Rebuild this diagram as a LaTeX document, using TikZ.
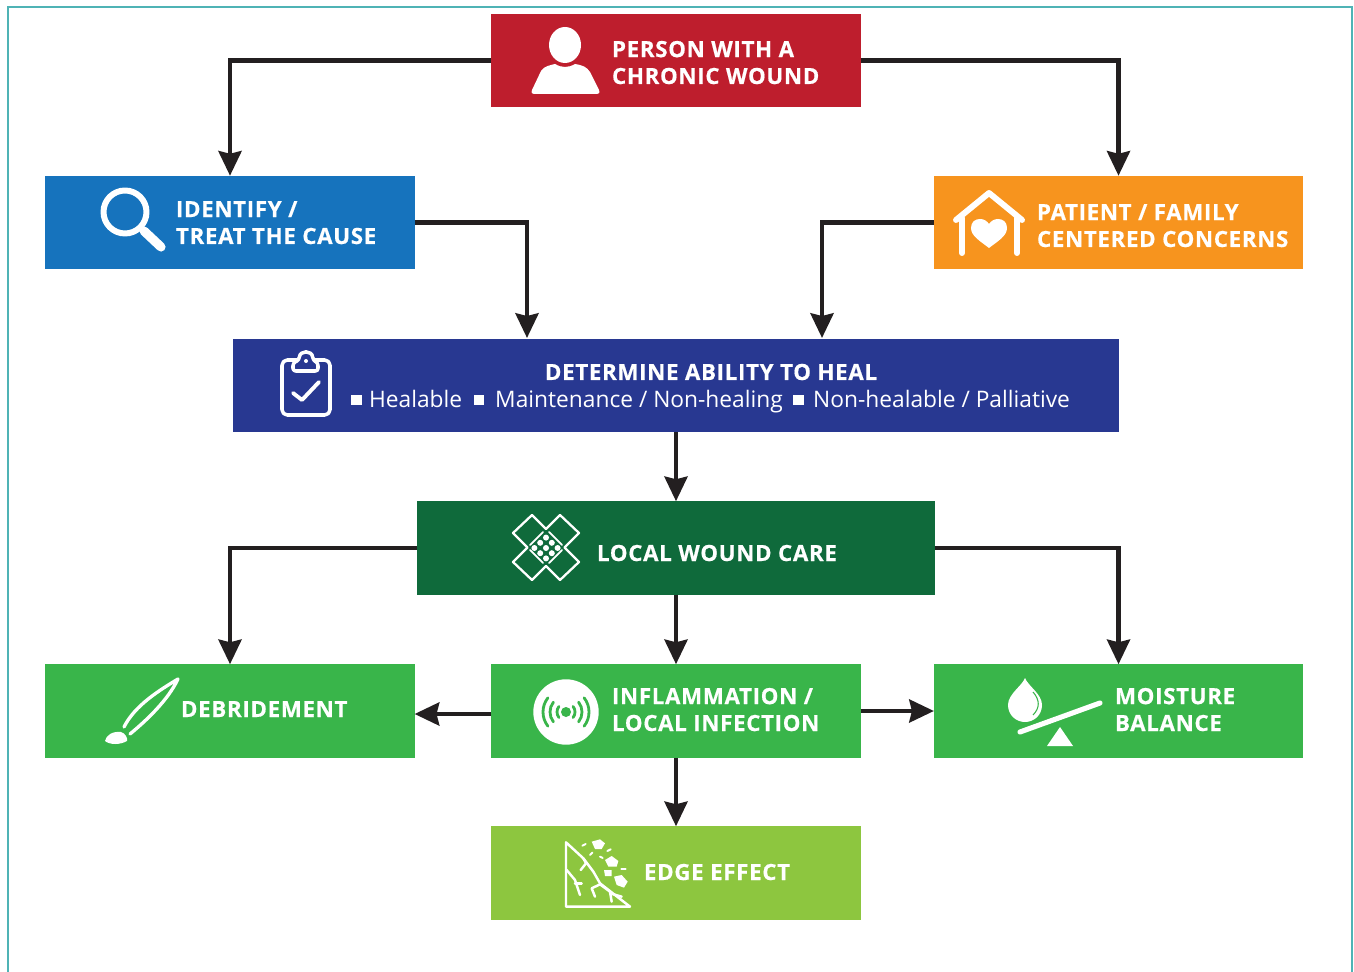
\documentclass[tikz,border=0pt]{standalone}
\usepackage{fontspec}
\setmainfont{Open Sans}
\newfontfamily\stepfont[LetterSpace=3, BoldFeatures={FakeBold=0.5}]{Open Sans}
\usetikzlibrary{arrows.meta, positioning}
\definecolor{framecol}{HTML}{4FB3B5}
\definecolor{personcol}{HTML}{BE1E2D}
\definecolor{identifycol}{HTML}{1673BD}
\definecolor{familycol}{HTML}{F7941E}
\definecolor{abilitycol}{HTML}{283891}
\definecolor{localcol}{HTML}{0F6A3B}
\definecolor{carecol}{HTML}{39B54A}
\definecolor{edgecol}{HTML}{8DC63F}
\definecolor{linkcol}{HTML}{231F20}
\newcommand{\itembox}{\raisebox{1.6pt}{\rule{6pt}{6pt}}}
\tikzset{
	stepbox/.style={minimum width=10.4cm*0.71, minimum height=1.87cm, inner sep=0pt, outer sep=0pt},
	widebox/.style={stepbox, minimum width=#1},
	steptxt/.style={anchor=base west, inner sep=0pt, outer sep=0pt, text=white, align=left, font=\fontsize{12.7}{15.3}\selectfont\stepfont\bfseries},
	link/.style={draw=linkcol, line width=2.7pt, -{Stealth[length=14pt, width=13pt, inset=1.5pt]}},
	iconline/.style={draw=white, line width=2pt, line cap=round, line join=round},
	iconfill/.style={fill=white}
}
\begin{document}
\begin{tikzpicture}[x=0.02cm, y=-0.02cm]
	\useasboundingbox (0,0) rectangle (1354,972);
	\draw[framecol, line width=1.2pt] (8,972) -- (8,7) -- (1352,7) -- (1352,972);

	\node[stepbox, fill=personcol] (person) at (676,60.5) {};
	\node[stepbox, fill=identifycol] (identify) at (230,222.5) {};
	\node[stepbox, fill=familycol] (family) at (1118.5,222.5) {};
	\node[widebox=17.72cm, fill=abilitycol] (ability) at (676,385.5) {};
	\node[widebox=10.36cm, fill=localcol] (localcare) at (676,548) {};
	\node[stepbox, fill=carecol] (debridement) at (230,711) {};
	\node[stepbox, fill=carecol] (inflammation) at (676,711) {};
	\node[stepbox, fill=carecol] (moisture) at (1118.5,711) {};
	\node[stepbox, fill=edgecol] (edgeeffect) at (676,873) {};

	\node[steptxt] (persontxt) at (612,84) {PERSON WITH A\\CHRONIC WOUND};
	\node[steptxt] (identifytxt) at (176,244) {IDENTIFY /\\TREAT THE CAUSE};
	\node[steptxt] (familytxt) at (1037,247) {PATIENT / FAMILY\\CENTERED CONCERNS};
	\node[steptxt, anchor=base] (abilitytxt) at (711,380) {DETERMINE ABILITY TO HEAL};
	\node[steptxt, font=\fontsize{12.95}{15}\selectfont] (abilityitems) at (351,408) {\itembox\hspace{4.3pt}Healable\hspace{6.6pt}\itembox\hspace{6.2pt}Maintenance / Non-healing\hspace{6pt}\itembox\hspace{5.3pt}Non-healable / Palliative};
	\node[steptxt] (localtxt) at (597,561) {LOCAL WOUND CARE};
	\node[steptxt] (debridementtxt) at (181,717) {DEBRIDEMENT};
	\node[steptxt] (inflammationtxt) at (612,731) {INFLAMMATION /\\LOCAL INFECTION};
	\node[steptxt] (moisturetxt) at (1115,731) {MOISTURE\\BALANCE};
	\node[steptxt] (edgetxt) at (644,880) {EDGE EFFECT};

	\coordinate (abilityleft) at (527,338);
	\coordinate (abilityright) at (822,338);
	\draw[link] (person.west) -| (identify.north);
	\draw[link] (person.east) -| (family.north);
	\draw[link] (identify.east) -| (abilityleft);
	\draw[link] (family.west) -| (abilityright);
	\draw[link] (ability.south) -- (localcare.north);
	\draw[link] (localcare.west) -| (debridement.north);
	\draw[link] (localcare.east) -| (moisture.north);
	\draw[link] (localcare.south) -- (inflammation.north);
	\draw[link] ([yshift=-.06cm]inflammation.west) -- ([yshift=-.06cm]debridement.east);
	\draw[link] (inflammation.east) -- (moisture.west);
	\draw[link] (inflammation.south) -- (edgeeffect.north);

	% person
	\fill[iconfill] (565,45) ellipse (16 and 18);
	\fill[iconfill] (532,90) -- (541,71) .. controls (544,66) and (551,65) .. (555,64) .. controls (562,68) and (568,68) .. (575,64) .. controls (582,65) and (587,67) .. (590,72) -- (599,90) .. controls (600,93) and (599,94) .. (597,94) -- (534,94) .. controls (532,94) and (531,93) .. (532,90) -- cycle;
	% magnifier
	\draw[iconline, line width=3.4pt] (125,212) circle (21.5);
	\draw[iconline, line width=5.2pt] (144,231) -- (161,247);
	% house
	\draw[iconline, line width=3.4pt] (956,220) -- (989,193) -- (1022,220);
	\draw[iconline, line width=3.4pt] (962,218) -- (962,253);
	\draw[iconline, line width=3.4pt] (1017,218) -- (1017,253);
	\fill[iconfill] (989,248) .. controls (980,241) and (971,236) .. (971,228) .. controls (971,222) and (975,219) .. (980,219) .. controls (984,219) and (987,221) .. (989,224) .. controls (991,221) and (994,219) .. (998,219) .. controls (1003,219) and (1007,222) .. (1007,228) .. controls (1007,236) and (998,241) .. (989,248) -- cycle;
	% clipboard
	\draw[iconline, rounded corners=3pt] (282,360) rectangle (330,415);
	\draw[iconline, fill=abilitycol, rounded corners=1.5pt] (293,371) -- (293,363) -- (299,360) .. controls (300,350) and (312,350) .. (313,360) -- (318,363) -- (318,371) -- cycle;
	\fill[iconfill] (306,361) circle (2);
	\draw[iconline, line width=2.2pt] (293,393) -- (302,400) -- (319,382);
	% bandage
	\draw[iconline, line width=1.3pt] (546,529) -- (532,515) -- (513,533) -- (527.5,547.5) -- (513,562) -- (532,580) -- (546,566) -- (560,580) -- (579,562) -- (564.5,547.5) -- (579,533) -- (560,515) -- cycle;
	\draw[iconline, line width=1pt] (530,545) -- (543,532) (549,532) -- (562,545) (562,550) -- (549,563) (543,563) -- (530,550);
	\foreach \i in {-1,0,1}
		\foreach \j in {-1,0,1}
			\fill[iconfill] (546+5.8*\i-5.8*\j, 548+5.2*\i+5.2*\j) circle (3);
	% brush
	\draw[iconline, line width=1.9pt] (124,727) .. controls (135,705) and (160,690) .. (178,679) .. controls (168,700) and (147,720) .. (130,734);
	\fill[iconfill] (105,741) .. controls (106,735) and (113,731) .. (121,732) .. controls (125,733) and (128,738) .. (127,741) .. controls (120,745) and (110,745) .. (105,741) -- cycle;
	% signal disc
	\fill[iconfill] (566,712) circle (32.7);
	\fill[carecol] (566,712) circle (5);
	\foreach \r in {9,16,23} {
		\draw[carecol, line width=1.6pt, line cap=round] (566,712) ++(-38:\r) arc (-38:38:\r);
		\draw[carecol, line width=1.6pt, line cap=round] (566,712) ++(142:\r) arc (142:218:\r);
	}
	% drop and scale
	\fill[iconfill] (1025,678) .. controls (1022,686) and (1008,694) .. (1008,705) .. controls (1008,715) and (1016,722) .. (1025,722) .. controls (1034,722) and (1042,715) .. (1042,705) .. controls (1042,694) and (1028,686) .. (1025,678) -- cycle;
	\draw[carecol, line width=.6pt] (1033,692) .. controls (1040,700) and (1040,708) .. (1033,715);
	\draw[iconline, line width=2.9pt] (1020,732) -- (1100,703);
	\fill[iconfill] (1060,727) -- (1073,746) -- (1047,746) -- cycle;
	% cliff
	\begin{scope}[shift={(550,825)}, x=.00667cm, y=-.00667cm]
		\draw[iconline, line width=1.4pt] (48,52) -- (100,100) -- (130,140) -- (150,175) -- (240,245) -- (48,245) -- cycle;
		\draw[iconline, line width=1.4pt] (100,100) -- (108,115) -- (92,135);
		\draw[iconline, line width=1.4pt] (150,178) -- (125,190) -- (135,215);
		\draw[iconline, line width=1.4pt] (150,178) -- (180,200) -- (185,230);
		\draw[iconline, line width=1.4pt] (180,205) -- (215,215);
		\draw[iconline, line width=1.4pt] (50,135) -- (75,165) -- (90,210);
		\draw[iconline, line width=1.4pt] (75,175) -- (95,175);
		\fill[iconfill] (125,50) -- (150,43) -- (165,55) -- (155,72) -- (135,72) -- cycle;
		\fill[iconfill] (165,105) -- (185,93) -- (205,108) -- (200,125) -- (175,125) -- cycle;
		\fill[iconfill] (162,135) -- (185,135) -- (185,153) -- (165,153) -- cycle;
		\fill[iconfill] (192,155) -- (215,150) -- (233,170) -- (222,188) -- (200,180) -- cycle;
		\draw[iconline, line width=1.1pt] (97,62) -- (107,57) (120,90) -- (127,83) (150,95) -- (158,99) (172,78) -- (182,73) (214,132) -- (227,132);
	\end{scope}
\end{tikzpicture}
\end{document}
